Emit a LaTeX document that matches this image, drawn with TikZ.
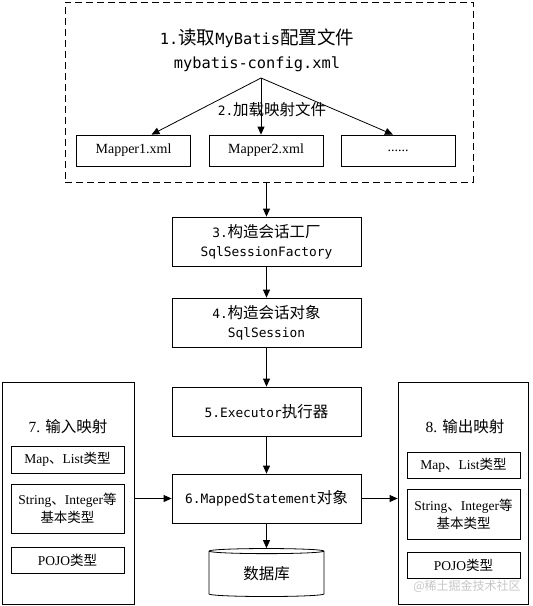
\documentclass[tikz,border=0pt]{standalone}
\usepackage{fontspec}
\setmainfont{Liberation Serif}
\newfontfamily\cnfont{Noto Sans CJK SC}
\newfontfamily\codefont[Scale=0.83]{DejaVu Sans Mono}
\usepackage{tikz}
\usetikzlibrary{shapes.geometric, arrows.meta, positioning}
\newcommand{\zh}[1]{{\cnfont #1}}

\begin{document}
\begin{tikzpicture}
  [
    x=1pt, y=-1pt,
    Box/.style={rectangle, draw=black, line width=0.8pt, minimum width=189pt, minimum height=49pt, inner sep=0pt, align=center, font=\fontsize{15.5}{19}\selectfont\codefont},
    Dashed/.style={rectangle, draw=black, line width=0.8pt, dash pattern=on 7pt off 4pt, minimum width=408pt, minimum height=180pt, inner sep=0pt},
    Title/.style={align=center, inner sep=0pt, font=\fontsize{18.5}{24}\selectfont\codefont},
    Label/.style={inner sep=0pt, font=\fontsize{15.5}{19}\selectfont\codefont},
    Mapper/.style={rectangle, draw=black, line width=0.8pt, minimum width=114pt, minimum height=31pt, inner sep=0pt, font=\fontsize{14}{17}\selectfont\rmfamily},
    Outer/.style={rectangle, draw=black, line width=0.8pt, minimum height=222pt, inner sep=0pt},
    Side/.style={inner sep=0pt, font=\fontsize{15.5}{19}\selectfont\rmfamily},
    Item/.style={rectangle, draw=black, line width=0.8pt, minimum width=113pt, inner sep=0pt, align=center, font=\fontsize{13.5}{18}\selectfont\rmfamily},
    Store/.style={cylinder, shape border rotate=90, aspect=0.11, draw=black, line width=0.8pt, minimum width=115pt, minimum height=48pt, inner sep=0pt, font=\fontsize{15.5}{19}\selectfont\cnfont},
    Arrow/.style={-{Triangle[length=8pt, width=7pt]}, draw=black, line width=0.8pt}
  ]
  \useasboundingbox (0, 0) rectangle (533, 606);
  % Nodes
  \node[Dashed] (cfg) at(269, 92) {};
  \node[Title] (title) at(257, 50) {1.\zh{读取}MyBatis\zh{配置文件}\\mybatis-config.xml};
  \coordinate (fan) at(261, 78);
  \node[Label] (load) at(272, 110) {2.\zh{加载映射文件}};
  \node[Mapper] (m1) at(133.5, 150.5) {Mapper1.xml};
  \node[Mapper] (m2) at(266, 150.5) {Mapper2.xml};
  \node[Mapper] (m3) at(398, 150.5) {......};
  \node[Box] (factory) at(266.5, 241.5) {3.\zh{构造会话工厂}\\SqlSessionFactory};
  \node[Box] (session) at(266.5, 322.5) {4.\zh{构造会话对象}\\SqlSession};
  \node[Box] (executor) at(266.5, 411.5) {5.Executor\zh{执行器}};
  \node[Box] (mapped) at(266.5, 498.5) {6.MappedStatement\zh{对象}};
  \node[Store] (db) at(266.5, 574) {数据库};
  % input side
  \node[Outer, minimum width=132pt] (inmap) at(68, 493) {};
  \node[Side] (intitle) at(68, 427) {7. \zh{输入映射}};
  \node[Item, minimum height=27pt] (in1) at(67.5, 459.5) {Map\zh{、}List\zh{类型}};
  \node[Item, minimum height=49pt] (in2) at(67.5, 508.5) {String\zh{、}Integer\zh{等}\\\zh{基本类型}};
  \node[Item, minimum height=26pt] (in3) at(67.5, 560) {POJO\zh{类型}};
  % output side
  \node[Outer, minimum width=130pt] (outmap) at(463, 493) {};
  \node[Side] (outtitle) at(465, 427) {8. \zh{输出映射}};
  \node[Item, minimum height=26pt] (out1) at(463.5, 465) {Map\zh{、}List\zh{类型}};
  \node[Item, minimum height=50pt] (out2) at(463.5, 514) {String\zh{、}Integer\zh{等}\\\zh{基本类型}};
  \node[Item, minimum height=26pt] (out3) at(463.5, 565) {POJO\zh{类型}};
  \node[text=gray!45, inner sep=0pt, font=\fontsize{12}{14}\selectfont\cnfont] (mark) at(467, 586) {@稀土掘金技术社区};
  % Lines
  \path [Arrow] (fan) -- ([xshift=18pt]m1.north);
  \path [Arrow] (fan) -- (fan |- m2.north);
  \path [Arrow] (fan) -- ([xshift=-5pt]m3.north);
  \path [Arrow] (factory.north |- cfg.south) -- (factory.north);
  \path [Arrow] (factory) -- (session);
  \path [Arrow] (session) -- (executor);
  \path [Arrow] (executor) -- (mapped);
  \path [Arrow] (mapped) -- (db);
  \path [Arrow] (inmap.east |- mapped.west) -- (mapped.west);
  \path [Arrow] (mapped.east) -- (outmap.west |- mapped.east);
\end{tikzpicture}
\end{document}
